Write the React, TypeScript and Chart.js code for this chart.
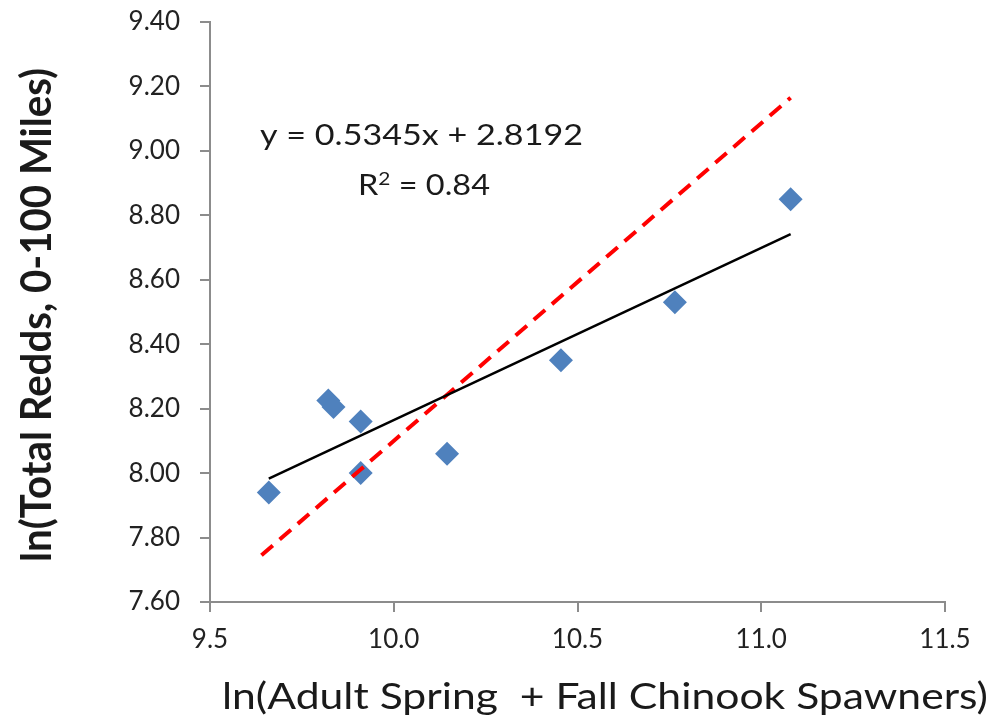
import React, { useEffect, useRef } from 'react';
import { Chart, registerables } from 'chart.js';

Chart.register(...registerables);

// ---- data ----
const spawnersLn = [9.66, 9.822, 9.836, 9.91, 9.91, 10.145, 10.455, 10.765, 11.08];
const reddsLn = [7.94, 8.225, 8.205, 8.16, 8.0, 8.06, 8.35, 8.53, 8.85];

const trendX = [9.66, 11.08];
const trendY = [7.983, 8.742];

const refX = [9.64, 11.08];
const refY = [7.745, 9.165];

const xTicks = [9.5, 10.0, 10.5, 11.0, 11.5];
const yTicks = [7.6, 7.8, 8.0, 8.2, 8.4, 8.6, 8.8, 9.0, 9.2, 9.4];

const xTitle = 'ln(Adult Spring  + Fall Chinook Spawners)';
const yTitle = 'ln(Total Redds, 0-100 Miles)';
const eqLine1 = 'y = 0.5345x + 2.8192';
const eqR = 'R';
const eqSup = '2';
const eqRest = ' = 0.84';

const pts = (xs: number[], ys: number[]) => xs.map((x, i) => ({ x, y: ys[i] }));

function drawFitted(
  ctx: CanvasRenderingContext2D,
  text: string,
  font: string,
  x: number,
  y: number,
  width: number,
  rotate = 0,
  thick = 1
) {
  ctx.save();
  ctx.font = font;
  ctx.textAlign = 'left';
  ctx.textBaseline = 'alphabetic';
  const w = ctx.measureText(text).width;
  ctx.translate(x, y);
  if (rotate) ctx.rotate(rotate);
  ctx.scale(width / w, thick);
  ctx.fillText(text, 0, 0);
  ctx.restore();
}

function drawRich(
  ctx: CanvasRenderingContext2D,
  parts: { text: string; font: string; dy: number }[],
  x: number,
  y: number,
  width: number
) {
  ctx.save();
  ctx.textAlign = 'left';
  ctx.textBaseline = 'alphabetic';
  const widths = parts.map((p) => {
    ctx.font = p.font;
    return ctx.measureText(p.text).width;
  });
  const total = widths.reduce((a, b) => a + b, 0);
  ctx.translate(x, y);
  ctx.scale(width / total, 1);
  let cx = 0;
  parts.forEach((p, i) => {
    ctx.font = p.font;
    ctx.fillText(p.text, cx, p.dy);
    cx += widths[i];
  });
  ctx.restore();
}

const textPlugin = {
  id: 'customTexts',
  afterDraw(chart: any) {
    const ctx: CanvasRenderingContext2D = chart.ctx;
    ctx.save();
    ctx.fillStyle = '#1a1a1a';
    drawFitted(ctx, xTitle, '37px Lato', 222, 709, 766);
    drawFitted(ctx, yTitle, 'bold 37px Lato', 51, 562, 494, -Math.PI / 2, 1.12);
    drawFitted(ctx, eqLine1, '28px Lato', 260, 145, 323);
    drawRich(
      ctx,
      [
        { text: eqR, font: '28px Lato', dy: 0 },
        { text: eqSup, font: '18px Lato', dy: -10 },
        { text: eqRest, font: '28px Lato', dy: 0 },
      ],
      358,
      195,
      132
    );
    ctx.restore();
  },
};

export default function App() {
  const ref = useRef<HTMLCanvasElement | null>(null);

  useEffect(() => {
    if (!ref.current) return;
    const axisColor = '#8c8c8c';
    const tickFont = { family: 'Lato', size: 26 };
    const chart = new Chart(ref.current, {
      type: 'scatter',
      data: {
        datasets: [
          {
            label: 'Linear (observed)',
            data: pts(trendX, trendY),
            showLine: true,
            borderColor: '#000000',
            borderWidth: 2.5,
            pointRadius: 0,
            fill: false,
          },
          {
            label: '1:1 reference',
            data: pts(refX, refY),
            showLine: true,
            borderColor: '#ff0000',
            borderWidth: 4,
            borderDash: [15, 9],
            pointRadius: 0,
            fill: false,
          },
          {
            label: 'Observed',
            data: pts(spawnersLn, reddsLn),
            pointStyle: 'rectRot',
            pointRadius: 12,
            pointBackgroundColor: '#4f81bd',
            pointBorderColor: '#4f81bd',
            pointBorderWidth: 0,
            showLine: false,
          },
        ],
      },
      options: {
        animation: false,
        responsive: true,
        maintainAspectRatio: false,
        layout: { padding: { top: 22, right: 51, left: 0, bottom: 0 } },
        plugins: { legend: { display: false }, tooltip: { enabled: false } },
        scales: {
          x: {
            type: 'linear',
            min: xTicks[0],
            max: xTicks[xTicks.length - 1],
            afterBuildTicks: (s: any) => {
              s.ticks = xTicks.map((v) => ({ value: v }));
            },
            afterFit: (s: any) => {
              s.height = 120;
              s.paddingLeft = 0;
              s.paddingRight = 0;
            },
            grid: {
              drawOnChartArea: false,
              drawTicks: true,
              tickLength: 10,
              color: axisColor,
              lineWidth: 2,
            },
            border: { color: axisColor, width: 2 },
            ticks: {
              padding: 12,
              color: '#222222',
              font: tickFont,
              callback: (v: any) => Number(v).toFixed(1),
            },
          },
          y: {
            type: 'linear',
            min: yTicks[0],
            max: yTicks[yTicks.length - 1],
            afterBuildTicks: (s: any) => {
              s.ticks = yTicks.map((v) => ({ value: v }));
            },
            afterFit: (s: any) => {
              s.width = 210;
              s.paddingTop = 0;
              s.paddingBottom = 0;
            },
            grid: {
              drawOnChartArea: false,
              drawTicks: true,
              tickLength: 10,
              color: axisColor,
              lineWidth: 2,
            },
            border: { color: axisColor, width: 2 },
            ticks: {
              padding: 20,
              color: '#222222',
              font: tickFont,
              callback: (v: any) => Number(v).toFixed(2),
            },
          },
        },
      },
      plugins: [textPlugin],
    });
    return () => chart.destroy();
  }, []);

  return (
    <div
      style={{
        position: 'fixed',
        left: 0,
        top: 0,
        width: 996,
        height: 722,
        background: '#ffffff',
      }}
    >
      <canvas ref={ref} />
    </div>
  );
}
